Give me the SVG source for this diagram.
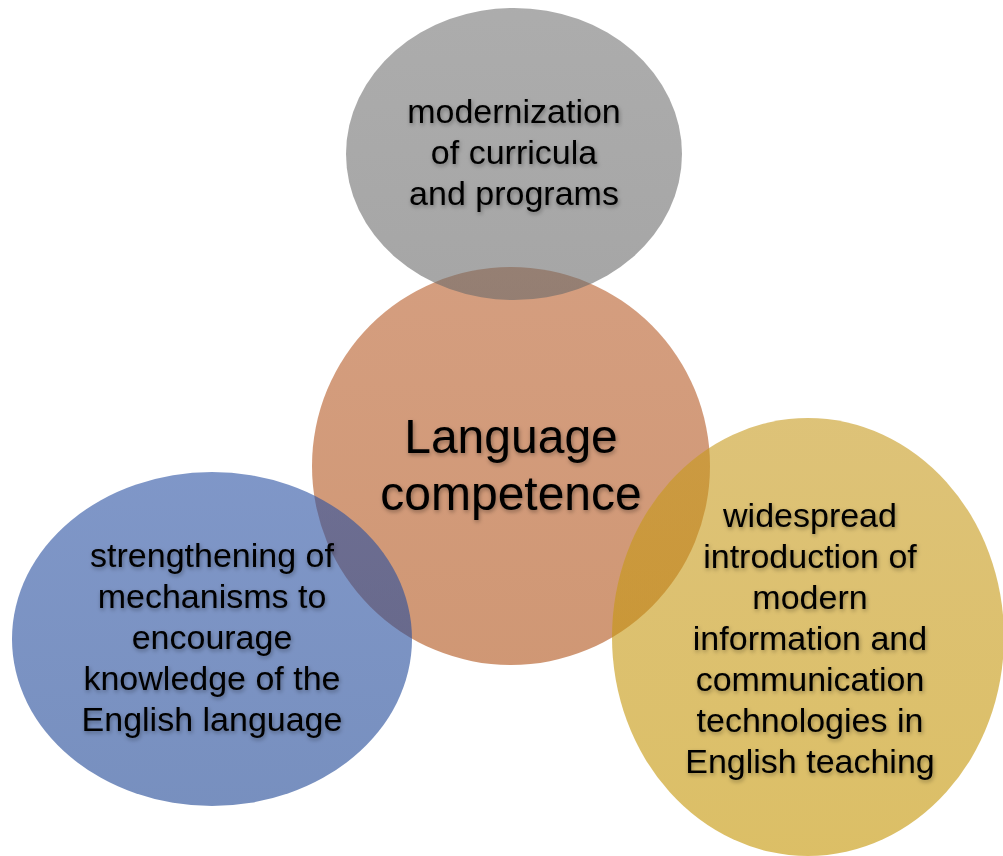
<svg xmlns="http://www.w3.org/2000/svg" width="1003" height="856" viewBox="0 0 1003 856">
  <style>
    .lbl { font-family: "Liberation Sans", Arial, sans-serif; fill: #000; text-anchor: middle; filter: url(#txtShadow); }
    .s34 { font-size: 34px; }
    .s48 { font-size: 48px; }
    .shape { fill-opacity: 0.6; }
  </style>
  <defs>
    <filter id="txtShadow" x="-10%" y="-30%" width="120%" height="160%">
      <feDropShadow dx="1" dy="2" stdDeviation="2" flood-color="#000" flood-opacity="0.35"/>
    </filter>
    <linearGradient id="gGray" x1="0" y1="0" x2="0" y2="1">
      <stop offset="0" stop-color="#757575"/>
      <stop offset="1" stop-color="#6a6a6a"/>
    </linearGradient>
    <linearGradient id="gOrange" x1="0" y1="0" x2="0" y2="1">
      <stop offset="0" stop-color="#b85d2a"/>
      <stop offset="1" stop-color="#b05218"/>
    </linearGradient>
    <linearGradient id="gBlue" x1="0" y1="0" x2="0" y2="1">
      <stop offset="0" stop-color="#2a51a3"/>
      <stop offset="1" stop-color="#1d4594"/>
    </linearGradient>
    <linearGradient id="gYellow" x1="0" y1="0" x2="0" y2="1">
      <stop offset="0" stop-color="#c79a1e"/>
      <stop offset="1" stop-color="#c49400"/>
    </linearGradient>
  </defs>
  <rect width="1003" height="856" fill="#ffffff"/>

  <g id="node-center">
    <circle class="shape" cx="511" cy="466" r="199" fill="url(#gOrange)"/>
  </g>
  <g id="node-top">
    <ellipse class="shape" cx="514" cy="154" rx="168" ry="146" fill="url(#gGray)"/>
  </g>
  <g id="node-left">
    <ellipse class="shape" cx="212" cy="639" rx="200" ry="167" fill="url(#gBlue)"/>
  </g>
  <g id="node-right">
    <ellipse class="shape" cx="808" cy="637" rx="196" ry="219" fill="url(#gYellow)"/>
  </g>

  <g id="connectors"></g>

  <g id="labels">
    <text class="lbl s48" x="511" y="453">Language</text>
    <text class="lbl s48" x="511" y="510">competence</text>

    <text class="lbl s34" x="514" y="123">modernization</text>
    <text class="lbl s34" x="514" y="164">of curricula</text>
    <text class="lbl s34" x="514" y="205">and programs</text>

    <text class="lbl s34" x="212" y="567">strengthening of</text>
    <text class="lbl s34" x="212" y="608">mechanisms to</text>
    <text class="lbl s34" x="212" y="649">encourage</text>
    <text class="lbl s34" x="212" y="690">knowledge of the</text>
    <text class="lbl s34" x="212" y="731">English language</text>

    <text class="lbl s34" x="810" y="527">widespread</text>
    <text class="lbl s34" x="810" y="568">introduction of</text>
    <text class="lbl s34" x="810" y="609">modern</text>
    <text class="lbl s34" x="810" y="650">information and</text>
    <text class="lbl s34" x="810" y="691">communication</text>
    <text class="lbl s34" x="810" y="732">technologies in</text>
    <text class="lbl s34" x="810" y="773">English teaching</text>
  </g>
</svg>
